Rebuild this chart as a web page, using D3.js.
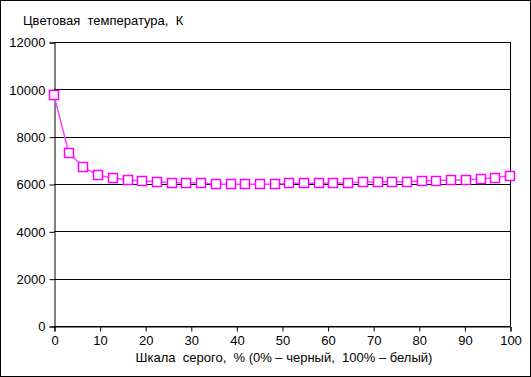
<!DOCTYPE html>
<html>
<head>
<meta charset="utf-8">
<script src="https://cdn.jsdelivr.net/npm/d3@7"></script>
<style>
  body { margin: 0; background: #fff; }
  svg text { font-family: "Liberation Sans", Arial, sans-serif; font-size: 13px; fill: #000; }
</style>
</head>
<body>
<div class="canvas"></div>
<script>
var width = 531;
var height = 377;

// grey level, % (32 steps from 0 to 100)
var greyLevels = d3.range(32).map(function(i) { return i * 100 / 31; });
// colour temperature, K
var colourTemp = [9750, 7330, 6700, 6370, 6250, 6170, 6130, 6090, 6050, 6050,
                  6040, 5990, 5990, 5990, 5985, 5990, 6030, 6030, 6035, 6040,
                  6045, 6080, 6080, 6085, 6090, 6140, 6145, 6170, 6175, 6215,
                  6270, 6350];
var yTicks = [0, 2000, 4000, 6000, 8000, 10000, 12000];
var xTicks = [0, 10, 20, 30, 40, 50, 60, 70, 80, 90, 100];

var titleText = 'Цветовая  температура,  К';
var xLabelText = 'Шкала  серого,  % (0% – черный,  100% – белый)';

var plotLeft = 54, plotRight = 510, plotTop = 42, plotBottom = 326;

var svg = d3.select('.canvas')
  .append('svg')
  .attr('width', width)
  .attr('height', height);

// outer frame
svg.append('rect')
  .attr('x', 0.5).attr('y', 0.5)
  .attr('width', width - 1).attr('height', height - 1)
  .attr('fill', '#fff').attr('stroke', '#000');

var xscale = d3.scaleLinear().domain([0, 100]).range([plotLeft, plotRight]);
var yscale = d3.scaleLinear().domain([0, 12000]).range([plotBottom, plotTop]);

// gridlines
svg.append('g')
  .selectAll('line')
  .data(yTicks)
  .enter()
  .append('line')
  .attr('x1', plotLeft).attr('x2', plotRight)
  .attr('y1', function(d) { return Math.round(yscale(d)) + 0.5; })
  .attr('y2', function(d) { return Math.round(yscale(d)) + 0.5; })
  .attr('stroke', '#000');

// right border
svg.append('line')
  .attr('x1', plotRight + 0.5).attr('x2', plotRight + 0.5)
  .attr('y1', plotTop).attr('y2', plotBottom)
  .attr('stroke', '#000');

var yaxis = d3.axisLeft(yscale).tickValues(yTicks).tickSize(5).tickPadding(4).tickFormat(d3.format('d'));
svg.append('g')
  .attr('transform', 'translate(' + (plotLeft + 0.5) + ',0.5)')
  .call(yaxis)
  .selectAll('text').style('font-size', '13px').attr('font-family', null);

var xaxis = d3.axisBottom(xscale).tickValues(xTicks).tickSize(5).tickPadding(4);
svg.append('g')
  .attr('transform', 'translate(0.5,' + (plotBottom + 0.5) + ')')
  .call(xaxis)
  .selectAll('text').style('font-size', '13px').attr('font-family', null);

svg.selectAll('.domain, .tick line').attr('stroke', '#000');

// series line
var line = d3.line()
  .x(function(d, i) { return xscale(greyLevels[i]); })
  .y(function(d) { return yscale(d); });

svg.append('path')
  .datum(colourTemp)
  .attr('d', line)
  .attr('fill', 'none')
  .attr('stroke', '#ff44ff')
  .attr('stroke-width', 1.5);

// markers
svg.append('g')
  .selectAll('rect')
  .data(colourTemp)
  .enter()
  .append('rect')
  .attr('x', function(d, i) { return Math.round(xscale(greyLevels[i])) - 4.5; })
  .attr('y', function(d) { return Math.round(yscale(d)) - 4.5; })
  .attr('width', 9).attr('height', 9)
  .attr('fill', '#fff')
  .attr('stroke', '#ff00ff')
  .attr('stroke-width', 1.5);

// titles
svg.append('text')
  .attr('x', 23).attr('y', 25)
  .style('white-space', 'pre')
  .text(titleText);

svg.append('text')
  .attr('x', 284).attr('y', 362)
  .attr('text-anchor', 'middle')
  .style('white-space', 'pre')
  .text(xLabelText);
</script>
</body>
</html>
